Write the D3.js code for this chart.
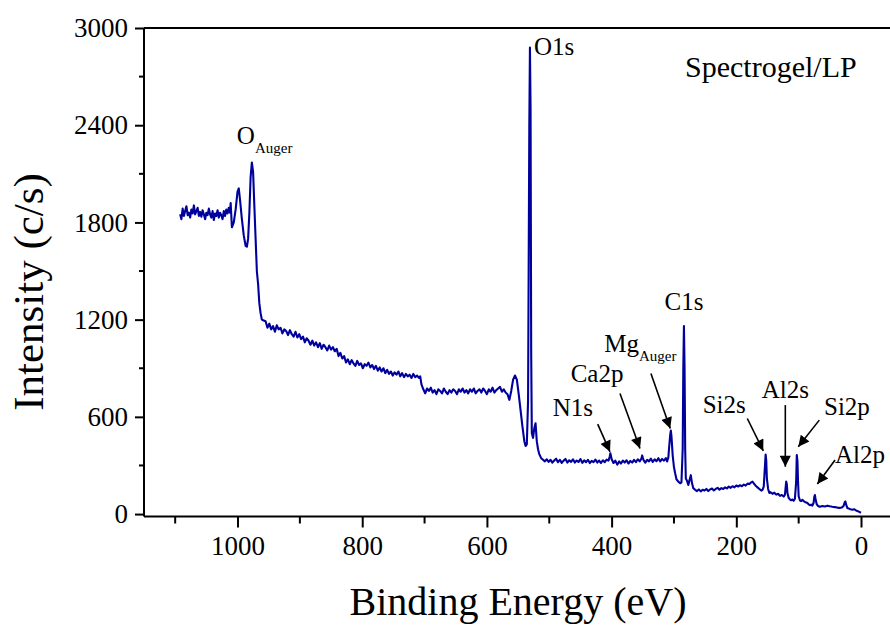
<!DOCTYPE html>
<html>
<head>
<meta charset="utf-8">
<script src="https://cdn.jsdelivr.net/npm/d3@7"></script>
<style>
  html, body { margin: 0; padding: 0; background: #fff; }
  svg { display: block; }
  text { font-family: "Liberation Serif", "Times New Roman", serif; fill: #000; }
</style>
</head>
<body>
<div id="chart"></div>
<script>
// XPS survey spectrum: [binding energy (eV), intensity (c/s)]
const spectrum = [
  [1092,1850],[1090,1820],[1088,1885],[1086,1840],[1084,1870],[1082,1900],[1080,1845],[1078,1860],
  [1076,1830],[1074,1880],[1072,1855],[1070,1905],[1068,1850],[1066,1870],[1064,1890],[1062,1840],
  [1060,1865],[1058,1835],[1056,1875],[1054,1850],[1052,1820],[1050,1860],[1048,1845],[1046,1885],
  [1044,1850],[1042,1830],[1040,1870],[1038,1815],[1036,1855],[1034,1840],[1032,1875],[1030,1830],
  [1028,1860],[1026,1845],[1024,1820],[1022,1870],[1020,1840],[1018,1880],[1016,1855],[1014,1890],
  [1012,1860],[1011,1920],[1009,1770],[1006,1800],[1003,1880],[1000,1990],
  [998,2010],[996,1940],[993,1820],[990,1720],[987,1655],[985,1650],[983,1700],[981,1860],
  [979,2080],[977,2170],[975,2110],[973,1900],[971,1700],[969,1500],[967,1420],[965,1300],
  [963,1240],[961,1200],[958,1195],
  [955,1190],[952,1150],[949,1175],[946,1140],[943,1160],[940,1125],[937,1165],[934,1140],
  [931,1150],[928,1115],[925,1140],[922,1130],[919,1105],[916,1135],[913,1110],[910,1095],
  [907,1125],[904,1090],[901,1110],[898,1080],[895,1095],[892,1060],[889,1085],[886,1070],
  [883,1045],[880,1070],[877,1040],[874,1060],[871,1030],[868,1055],[865,1020],[862,1045],
  [859,1030],[856,1010],[853,1040],[850,1015],[847,1030],[844,1005],[841,1020],[838,975],
  [835,995],[832,960],[829,975],[826,935],[823,955],[820,925],[817,950],[814,930],
  [811,915],[808,945],[805,920],[802,930],[799,900],[796,925],[793,915],[790,935],
  [787,905],[784,920],[781,895],[778,915],[775,885],[772,905],[769,880],[766,900],
  [763,870],[760,890],[757,865],[754,880],[751,855],[748,875],[745,860],[742,880],
  [739,850],[736,870],[733,845],[730,865],[727,850],[724,860],[721,840],[718,865],
  [715,845],[712,855],[709,840],[707,850],[705,800],[702,770],[699,745],[696,775],
  [693,760],[690,780],[687,750],[684,765],[681,740],[678,770],[675,760],[672,745],
  [669,775],[666,755],[663,740],[660,765],[657,750],[654,770],[651,760],[648,740],
  [645,770],[642,755],[639,775],[636,750],[633,765],[630,745],[627,770],[624,755],
  [621,775],[618,745],[615,760],[612,770],[609,750],[606,775],[603,760],[600,740],
  [597,770],[594,755],[591,780],[588,750],[585,765],[582,775],[579,785],[576,755],
  [573,770],[570,750],[567,740],[564,705],
  [561,760],[558,830],[555,855],[552,830],[549,740],[546,640],[543,540],[540,450],
  [538,420],[536,430],[534,700],[532,2400],[531,2880],[530,2500],[529,1000],[528,500],
  [526,470],[524,530],[522,560],[520,450],[518,400],[516,370],[513,345],[510,335],
  [507,325],[504,338],[501,322],[498,335],[495,318],[492,330],[489,342],[486,320],
  [483,335],[480,316],[477,330],[474,340],[471,318],[468,332],[465,322],[462,338],
  [459,318],[456,330],[453,322],[450,340],[447,316],[444,332],[441,320],[438,335],
  [435,315],[432,328],[429,320],[426,336],[423,318],[420,330],[417,315],[414,332],
  [411,320],[408,336],[405,330],[403,355],[402,375],[400,340],[397,315],[394,330],
  [391,305],[388,325],[385,312],[382,330],[379,318],[376,332],[373,312],[370,328],
  [367,318],[364,335],[361,320],[358,338],[355,325],[352,345],[351,362],[349,335],
  [346,318],[343,335],[340,325],[337,342],[334,322],[331,338],[328,326],[325,345],
  [322,325],[319,340],[316,330],[313,345],[311,325],[309,350],[308,400],[306,490],
  [305,515],[304,480],[302,360],[300,290],[298,250],[296,215],[293,200],[290,190],
  [288,195],[286,400],[285,900],[284,1160],[283,900],[282,400],[281,220],[279,205],
  [277,180],[275,210],[273,240],[271,190],[269,160],[266,150],[263,142],[260,152],
  [257,140],[254,150],[251,145],[248,155],[245,142],[242,152],[239,158],[236,146],
  [233,155],[230,162],[227,150],[224,160],[221,155],[218,165],[215,158],[212,170],
  [209,162],[206,172],[203,165],[200,176],[197,170],[194,178],[191,172],[188,182],
  [185,176],[182,188],[179,185],[176,196],[174,200],[172,190],[169,175],[166,165],
  [163,155],[160,145],[158,150],[156,170],[154,300],[153,368],[152,330],[151,220],
  [149,155],[147,130],[145,135],[142,125],[139,132],[136,120],[133,125],[130,112],
  [127,118],[124,108],[122,120],[121,160],[120,200],[119,185],[118,130],[116,100],
  [114,90],[112,85],[110,90],[108,82],[106,95],[104,200],[103,365],[102,330],
  [101,200],[100,110],[98,85],[96,80],[94,88],[92,80],[90,75],[88,72],
  [86,68],[84,60],[82,55],[80,58],[78,52],[76,70],[75,105],[74,118],
  [73,95],[71,60],[69,50],[66,45],[62,50],[58,47],[54,52],[50,48],
  [46,45],[42,43],[38,40],[34,38],[31,40],[28,50],[26,74],[25,78],
  [24,60],[22,38],[20,35],[17,30],[14,27],[11,30],[8,22],[5,18],[2,12],[0,8]
];

const xTicks = [1000, 800, 600, 400, 200, 0];
const yTicks = [0, 600, 1200, 1800, 2400, 3000];

// arrowed peak labels: name, energy and intensity of the arrow tip
const peakNames = ["N1s", "Ca2p", "Si2s", "Al2s", "Si2p", "Al2p"];
const peakEnergy = [402.6, 354.5, 156.7, 121.4, 100.6, 70];
const peakLevel = [384, 405, 390, 292, 415, 185];

const width = 890, height = 625;
const plotL = 144, plotR = 890, plotT = 28, plotB = 516.5;

const svg = d3.select("#chart").append("svg")
  .attr("width", width)
  .attr("height", height);

const x = d3.scaleLinear().domain([1150, -46.5]).range([plotL, plotR]);
const y = d3.scaleLinear().domain([-15, 3000]).range([plotB, plotT]);

svg.append("defs").append("marker")
  .attr("id", "head")
  .attr("viewBox", "0 0 10 10")
  .attr("refX", 10).attr("refY", 5)
  .attr("markerWidth", 13).attr("markerHeight", 11)
  .attr("markerUnits", "userSpaceOnUse")
  .attr("orient", "auto")
  .append("path")
  .attr("d", "M0,0 L10,5 L0,10 Z")
  .attr("fill", "#000");

// x axis
const xMinor = d3.range(1100, -1, -200);
const gx = svg.append("g").attr("transform", `translate(0,${plotB})`)
  .call(d3.axisBottom(x).tickValues(xTicks).tickSize(11).tickPadding(8).tickFormat(d3.format("d")));
xMinor.forEach(v => {
  gx.append("line").attr("x1", x(v)).attr("x2", x(v)).attr("y1", 0).attr("y2", 7)
    .attr("stroke", "#000").attr("stroke-width", 2);
});

// y axis
const yMinor = d3.range(300, 3000, 600);
const gy = svg.append("g").attr("transform", `translate(${plotL},0)`)
  .call(d3.axisLeft(y).tickValues(yTicks).tickSize(9).tickPadding(7).tickFormat(d3.format("d")));
yMinor.forEach(v => {
  gy.append("line").attr("x1", 0).attr("x2", -5).attr("y1", y(v)).attr("y2", y(v))
    .attr("stroke", "#000").attr("stroke-width", 2);
});

[gx, gy].forEach(g => {
  g.select(".domain").remove();
  g.selectAll(".tick line").attr("stroke-width", 2);
  g.selectAll(".tick text").attr("font-size", 27).attr("font-family", "Liberation Serif");
});

// frame: left, bottom and top lines (top and bottom run off the right edge)
[[plotL, plotT, plotR, plotT], [plotL, plotB, plotR, plotB], [plotL, plotT, plotL, plotB]].forEach(s => {
  svg.append("line").attr("x1", s[0]).attr("y1", s[1]).attr("x2", s[2]).attr("y2", s[3])
    .attr("stroke", "#000").attr("stroke-width", 2);
});

// spectrum
const line = d3.line().x(d => x(d[0])).y(d => y(d[1]));
svg.append("path")
  .datum(spectrum)
  .attr("fill", "none")
  .attr("stroke", "#00009c")
  .attr("stroke-width", 2.1)
  .attr("stroke-linejoin", "round")
  .attr("d", line);

// axis titles
svg.append("text")
  .attr("x", 518)
  .attr("y", 615)
  .attr("text-anchor", "middle")
  .attr("font-size", 40)
  .text("Binding Energy (eV)");

svg.append("text")
  .attr("transform", "translate(43,292) rotate(-90)")
  .attr("text-anchor", "middle")
  .attr("font-size", 43)
  .text("Intensity (c/s)");

svg.append("text")
  .attr("x", 685).attr("y", 77)
  .attr("font-size", 30)
  .text("Spectrogel/LP");

// plain labels
svg.append("text").attr("x", x(531) + 4).attr("y", y(2880) + 8)
  .attr("font-size", 25).text("O1s");
svg.append("text").attr("x", x(284)).attr("y", y(1160) - 16)
  .attr("text-anchor", "middle").attr("font-size", 25).text("C1s");

// labels with subscripts
const subLabel = (px, py, main, sub) => {
  const t = svg.append("text").attr("x", px).attr("y", py).attr("font-size", 25);
  t.append("tspan").text(main);
  t.append("tspan").attr("dy", 9).attr("font-size", 15).text(sub);
};
subLabel(x(977) - 15, y(2170) - 18.7, "O", "Auger");
subLabel(x(306) - 66, y(528) - 76.6, "Mg", "Auger");

// Mg Auger arrow
svg.append("line")
  .attr("x1", x(306) - 19.3).attr("y1", y(528) - 55)
  .attr("x2", x(306)).attr("y2", y(528))
  .attr("stroke", "#000").attr("stroke-width", 1.6)
  .attr("marker-end", "url(#head)");

// arrow start and label offsets (px) for each named peak
const arrowFrom = [[-12.3, -27.7], [-20, -55], [-16, -32.4], [0, -61.7], [21, -26.7], [17.7, -24]];
const labelAt = [[-57.3, -35.7], [-69.3, -66.6], [-60.6, -37.4], [-23.6, -68.4], [25.7, -31.7], [17.7, -20.7]];

peakNames.forEach((name, i) => {
  const tx = x(peakEnergy[i]), ty = y(peakLevel[i]);
  svg.append("line")
    .attr("x1", tx + arrowFrom[i][0]).attr("y1", ty + arrowFrom[i][1])
    .attr("x2", tx).attr("y2", ty)
    .attr("stroke", "#000").attr("stroke-width", 1.6)
    .attr("marker-end", "url(#head)");
  svg.append("text")
    .attr("x", tx + labelAt[i][0]).attr("y", ty + labelAt[i][1])
    .attr("font-size", 25)
    .text(name);
});
</script>
</body>
</html>
